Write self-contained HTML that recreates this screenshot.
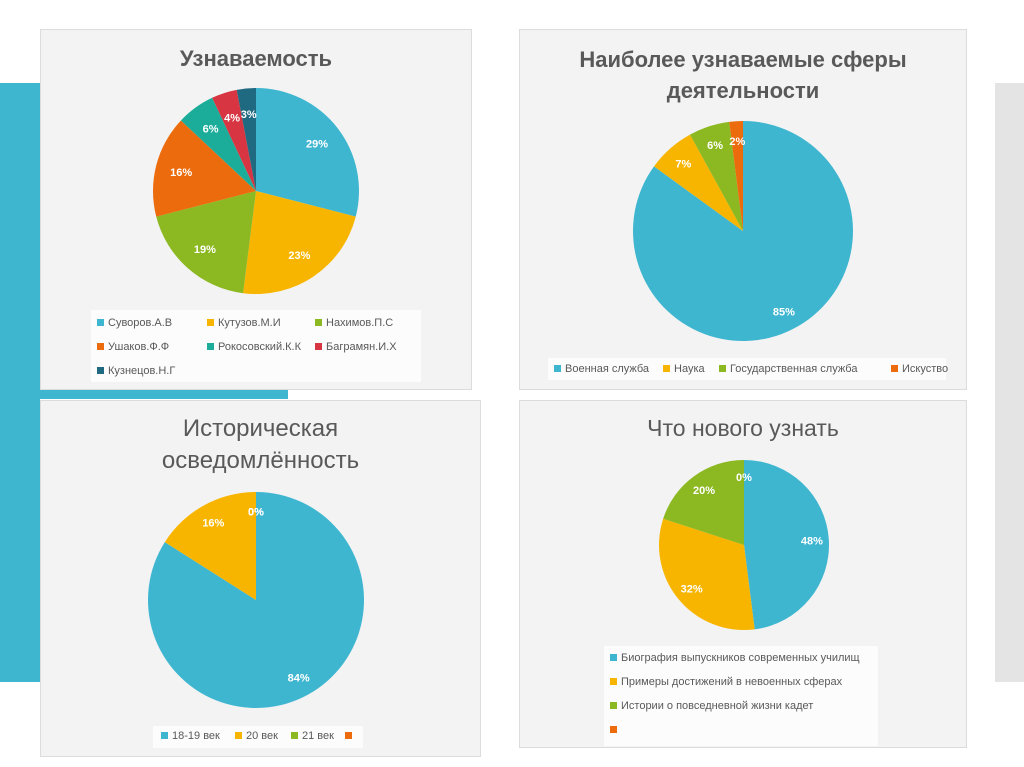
<!DOCTYPE html>
<html><head><meta charset="utf-8">
<style>
body{margin:0;width:1024px;height:767px;background:#fff;position:relative;overflow:hidden;font-family:"Liberation Sans","DejaVu Sans",sans-serif;}
.abs{position:absolute;}
.panel{position:absolute;background:#f3f3f3;border:1px solid #dcdcdc;box-sizing:border-box;}
.title{position:absolute;left:0;right:0;text-align:center;color:#595959;font-weight:bold;font-size:22px;line-height:31px;}
.leg{position:absolute;background:#fcfcfc;font-size:11px;color:#595959;}
.li{position:absolute;white-space:nowrap;}
.sw{display:inline-block;width:7px;height:7px;margin-right:4px;vertical-align:0px;}
svg{position:absolute;left:0;top:0;}
</style></head><body>
<div class="abs" style="left:0;top:83px;width:40px;height:599px;background:#3fb6d0"></div>
<div class="abs" style="left:40px;top:389px;width:248px;height:10px;background:#3fb6d0"></div>
<div class="abs" style="left:995px;top:83px;width:29px;height:599px;background:#e4e4e4"></div>

<div class="panel" style="left:40px;top:29px;width:432px;height:361px">
  <div class="title" style="top:13px">Узнаваемость</div>
  <div class="leg" style="left:50px;top:280px;width:330px;height:72px">
    <div class="li" style="left:6px;top:7px"><span class="sw" style="background:#3fb6d0"></span>Суворов.А.В</div>
    <div class="li" style="left:116px;top:7px"><span class="sw" style="background:#f8b500"></span>Кутузов.М.И</div>
    <div class="li" style="left:224px;top:7px"><span class="sw" style="background:#8cb822"></span>Нахимов.П.С</div>
    <div class="li" style="left:6px;top:31px"><span class="sw" style="background:#ec6b0c"></span>Ушаков.Ф.Ф</div>
    <div class="li" style="left:116px;top:31px"><span class="sw" style="background:#1cad9a"></span>Рокосовский.К.К</div>
    <div class="li" style="left:224px;top:31px"><span class="sw" style="background:#d63541"></span>Баграмян.И.Х</div>
    <div class="li" style="left:6px;top:55px"><span class="sw" style="background:#1f6a80"></span>Кузнецов.Н.Г</div>
  </div>
</div>

<div class="panel" style="left:519px;top:29px;width:448px;height:361px">
  <div class="title" style="top:14px">Наиболее узнаваемые сферы<br>деятельности</div>
  <div class="leg" style="left:28px;top:328px;width:398px;height:22px">
    <div class="li" style="left:6px;top:5px"><span class="sw" style="background:#3fb6d0"></span>Военная служба</div>
    <div class="li" style="left:115px;top:5px"><span class="sw" style="background:#f8b500"></span>Наука</div>
    <div class="li" style="left:171px;top:5px"><span class="sw" style="background:#8cb822"></span>Государственная служба</div>
    <div class="li" style="left:343px;top:5px"><span class="sw" style="background:#ec6b0c"></span>Искуство</div>
  </div>
</div>

<div class="panel" style="left:40px;top:400px;width:441px;height:357px">
  <div class="title" style="top:12px;font-weight:normal;font-size:24px;line-height:32px">Историческая<br>осведомлённость</div>
  <div class="leg" style="left:112px;top:325px;width:210px;height:22px">
    <div class="li" style="left:8px;top:4px"><span class="sw" style="background:#3fb6d0"></span>18-19 век</div>
    <div class="li" style="left:82px;top:4px"><span class="sw" style="background:#f8b500"></span>20 век</div>
    <div class="li" style="left:138px;top:4px"><span class="sw" style="background:#8cb822"></span>21 век</div>
    <div class="li" style="left:192px;top:4px"><span class="sw" style="background:#ec6b0c"></span></div>
  </div>
</div>

<div class="panel" style="left:519px;top:400px;width:448px;height:348px">
  <div class="title" style="top:12px;font-weight:normal;font-size:23px">Что нового узнать</div>
  <div class="leg" style="left:84px;top:245px;width:274px;height:100px">
    <div class="li" style="left:6px;top:6px"><span class="sw" style="background:#3fb6d0"></span>Биография выпускников современных училищ</div>
    <div class="li" style="left:6px;top:30px"><span class="sw" style="background:#f8b500"></span>Примеры достижений в невоенных сферах</div>
    <div class="li" style="left:6px;top:54px"><span class="sw" style="background:#8cb822"></span>Истории о повседневной жизни кадет</div>
    <div class="li" style="left:6px;top:78px"><span class="sw" style="background:#ec6b0c"></span></div>
  </div>
</div>

<svg id="pies" width="1024" height="767"></svg>

<script>
const pie1Categories = ["Суворов.А.В","Кутузов.М.И","Нахимов.П.С","Ушаков.Ф.Ф","Рокосовский.К.К","Баграмян.И.Х","Кузнецов.Н.Г"];
const pie1Values = [29,23,19,16,6,4,3];
const pie2Categories = ["Военная служба","Наука","Государственная служба","Искуство"];
const pie2Values = [85,7,6,2];
const pie3Categories = ["18-19 век","20 век","21 век",""];
const pie3Values = [84,16,0,0];
const pie4Categories = ["Биография выпускников","Примеры достижений","Истории о жизни кадет",""];
const pie4Values = [48,32,20,0];
const colors1 = ["#3fb6d0","#f8b500","#8cb822","#ec6b0c","#1cad9a","#d63541","#1f6a80"];
const colors2 = ["#3fb6d0","#f8b500","#8cb822","#ec6b0c"];

const NS="http://www.w3.org/2000/svg";
const svg=document.getElementById('pies');
function drawPie(name,cats,vals,colors,cx,cy,rx,ry,labR,font){
  const total=vals.reduce((a,b)=>a+b,0);
  let a=0;
  const g=document.createElementNS(NS,'g');
  
  
  svg.appendChild(g);
  vals.forEach((v,i)=>{
    const a0=a, a1=a+v/total*2*Math.PI; a=a1;
    const p=t=>[cx+rx*Math.sin(t), cy-ry*Math.cos(t)];
    if(v>0){
      const [x0,y0]=p(a0),[x1,y1]=p(a1);
      const large=(a1-a0)>Math.PI?1:0;
      const path=document.createElementNS(NS,'path');
      path.setAttribute('d',`M${cx},${cy}L${x0},${y0}A${rx},${ry} 0 ${large} 1 ${x1},${y1}Z`);
      path.setAttribute('fill',colors[i]);
      
      
      g.appendChild(path);
    }
    const m=(a0+a1)/2;
    const t=document.createElementNS(NS,'text');
    t.setAttribute('x',cx+rx*labR*Math.sin(m));
    t.setAttribute('y',cy-ry*labR*Math.cos(m)+4);
    t.setAttribute('text-anchor','middle');
    t.setAttribute('fill','#fff');
    t.setAttribute('font-weight','bold');
    t.setAttribute('font-size',font);
    t.setAttribute('font-family','"Liberation Sans",sans-serif');
    t.textContent=v+'%';
    
    
    g.appendChild(t);
  });
}
drawPie('recognition-pie',pie1Categories,pie1Values,colors1,256,191,103,103,0.75,11);
drawPie('spheres-pie',pie2Categories,pie2Values,colors2,743,231,110,110,0.82,11);
drawPie('history-pie',pie3Categories,pie3Values,colors2,256,600,108,108,0.82,11);
drawPie('learn-pie',pie4Categories,pie4Values,colors2,744,545,85,85,0.8,11);
</script>
</body></html>
